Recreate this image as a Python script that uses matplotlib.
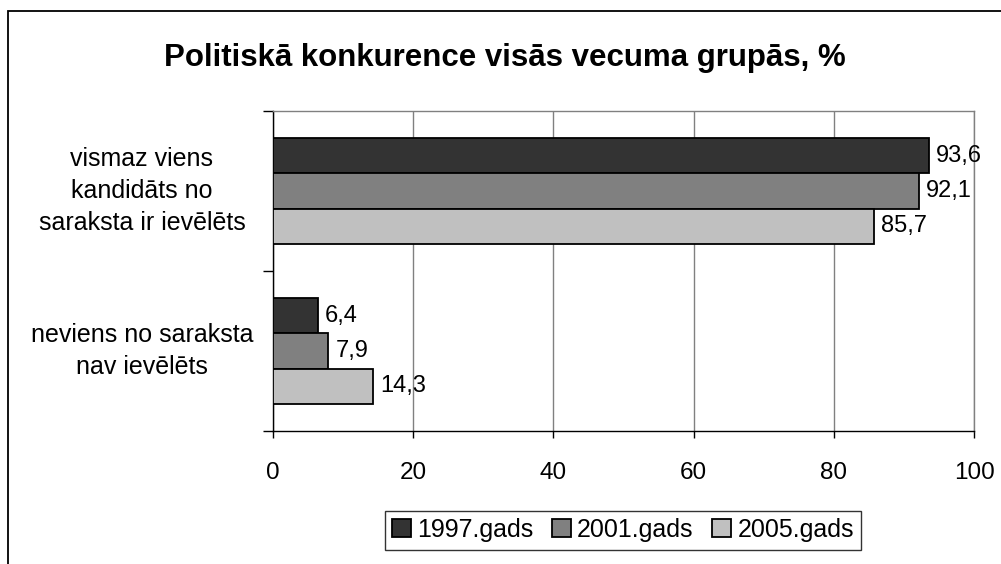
import matplotlib
matplotlib.use("Agg")
import matplotlib.pyplot as plt
from matplotlib.patches import Rectangle
from matplotlib.transforms import blended_transform_factory

plt.rcParams['font.family'] = ['Liberation Sans', 'DejaVu Sans']

categories = ["vismaz viens\nkandidāts no\nsaraksta ir ievēlēts",
              "neviens no saraksta\nnav ievēlēts"]
series_names = ["1997.gads", "2001.gads", "2005.gads"]
values = [
    [93.6, 6.4],
    [92.1, 7.9],
    [85.7, 14.3],
]
value_labels = [
    ["93,6", "6,4"],
    ["92,1", "7,9"],
    ["85,7", "14,3"],
]
colors = ["#333333", "#808080", "#c0c0c0"]
x_ticks = [0, 20, 40, 60, 80, 100]

fig = plt.figure(figsize=(10.01, 5.64), dpi=100)
ax = fig.add_axes([273 / 1001, 1 - 431 / 564, (974 - 273) / 1001, (431 - 111) / 564])

bar_h = 0.22
centers = [0.5 + i for i in range(len(categories))]
for s, name in enumerate(series_names):
    offs = (s - 1) * bar_h
    ys = [c + offs for c in centers]
    ax.barh(ys, values[s], height=bar_h, color=colors[s], edgecolor="black",
            linewidth=1.3, label=name, zorder=3)
    for y, v, lab in zip(ys, values[s], value_labels[s]):
        ax.text(v + 1.0, y, lab, va="center", ha="left", fontsize=17, zorder=4)

ax.set_xlim(0, 100)
ax.set_ylim(2, 0)
ax.set_xticks(x_ticks)
ax.set_xticklabels([str(t) for t in x_ticks], fontsize=17.5)
ax.set_yticks([0, 1, 2])
ax.set_yticklabels([])
ax.xaxis.grid(True, color="#808080", linewidth=1, zorder=0)
ax.tick_params(axis="x", length=5, width=1, pad=17, direction="out")
ax.tick_params(axis="y", length=7, width=1, direction="out")
for side in ["top", "right"]:
    ax.spines[side].set_color("#808080")
    ax.spines[side].set_linewidth(1)
for side in ["left", "bottom"]:
    ax.spines[side].set_color("black")
    ax.spines[side].set_linewidth(1)

trans = blended_transform_factory(fig.transFigure, ax.transData)
for c, lab in zip(centers, categories):
    ax.text(142 / 1001, c, lab, transform=trans, ha="center", va="center",
            multialignment="center", fontsize=18, linespacing=1.4)

fig.text(505 / 1001, 1 - 58 / 564, "Politiskā konkurence visās vecuma grupās, %",
         ha="center", va="center", fontsize=22.5, fontweight="bold")

leg = fig.legend(loc="center", bbox_to_anchor=(623 / 1001, 1 - 530 / 564), ncol=3,
                 fontsize=18, frameon=True, fancybox=False, handlelength=0.75,
                 handleheight=0.75, handletextpad=0.25, columnspacing=0.75,
                 borderpad=0.3, borderaxespad=0)
leg.get_frame().set_edgecolor("black")
leg.get_frame().set_linewidth(1)

# outer chart frame
fig.patches.append(Rectangle((8 / 1001, -0.1), 1.1, 1.1 - 11 / 564, transform=fig.transFigure,
                             fill=False, edgecolor="black", linewidth=1.3, clip_on=False))

fig.savefig("out.png", dpi=100)
